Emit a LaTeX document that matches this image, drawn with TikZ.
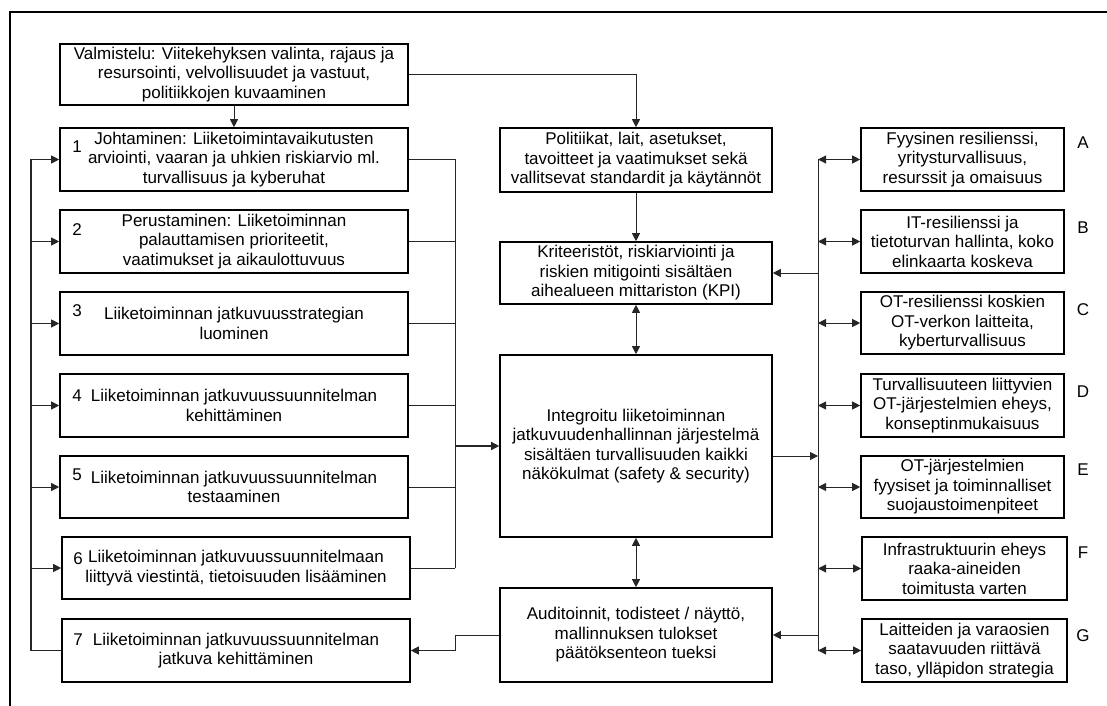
\documentclass[tikz,border=0pt]{standalone}
\usepackage{fontspec}
\setmainfont{Liberation Sans}
\usetikzlibrary{arrows.meta,calc}
\begin{document}
\begin{tikzpicture}[x=1bp,y=-1bp,
  txt/.style={font=\fontsize{17bp}{19.5bp}\selectfont},
  box/.style={draw, line width=1.6bp, align=center, inner sep=0pt, txt},
  lbox/.style={box, minimum width=348bp, minimum height=63bp},
  mbox/.style={box, minimum width=272bp},
  rbox/.style={box, minimum width=203bp, minimum height=63bp},
  conn/.style={line width=1bp, draw=black!85},
  arr/.style={conn, -{Triangle[length=8bp,width=8bp]}},
  darr/.style={conn, {Triangle[length=8bp,width=8bp]}-{Triangle[length=8bp,width=8bp]}},
  lbl/.style={txt, inner sep=0pt}]
\useasboundingbox (0,0) rectangle (1107,706);
% frame
\draw[line width=2bp] (1107,12.5) -- (9.5,12.5) -- (9.5,706);
% left column
\node[lbox, minimum height=61bp] (V) at (234,74.5) {Valmistelu: Viitekehyksen valinta, rajaus ja\\resursointi, velvollisuudet ja vastuut,\\politiikkojen kuvaaminen};
\node[lbox] (B1) at (234,159.5) {Johtaminen: Liiketoimintavaikutusten\\arviointi, vaaran ja uhkien riskiarvio ml.\\turvallisuus ja kyberuhat};
\node[lbox] (B2) at (234,241.5) {Perustaminen: Liiketoiminnan\\palauttamisen prioriteetit,\\vaatimukset ja aikaulottuvuus};
\node[lbox] (B3) at (234,323.5) {Liiketoiminnan jatkuvuusstrategian\\luominen};
\node[lbox] (B4) at (234,405.5) {Liiketoiminnan jatkuvuussuunnitelman\\kehittäminen};
\node[lbox, minimum height=62bp] (B5) at (234,487) {Liiketoiminnan jatkuvuussuunnitelman\\testaaminen};
\node[lbox, minimum height=62bp] (B6) at (236,568) {Liiketoiminnan jatkuvuussuunnitelmaan\\liittyvä viestintä, tietoisuuden lisääminen};
\node[lbox] (B7) at (236,650.5) {Liiketoiminnan jatkuvuussuunnitelman\\jatkuva kehittäminen};
% numbers
\node[lbl] (n1) at (77,147) {1};
\node[lbl] (n2) at (77,230) {2};
\node[lbl] (n3) at (77,311) {3};
\node[lbl] (n4) at (77,396) {4};
\node[lbl] (n5) at (77,475) {5};
\node[lbl] (n6) at (78,559) {6};
\node[lbl] (n7) at (78,640) {7};
% middle column
\node[mbox, minimum height=64bp] (M1) at (636,160) {Politiikat, lait, asetukset,\\tavoitteet ja vaatimukset sekä\\vallitsevat standardit ja käytännöt};
\node[mbox, minimum height=62bp] (M2) at (636,273) {Kriteeristöt, riskiarviointi ja\\riskien mitigointi sisältäen\\aihealueen mittariston (KPI)};
\node[mbox, minimum height=182bp] (M3) at (636,446) {Integroitu liiketoiminnan\\jatkuvuudenhallinnan järjestelmä\\sisältäen turvallisuuden kaikki\\näkökulmat (safety \& security)};
\node[mbox, minimum height=94bp] (M4) at (636,635) {Auditoinnit, todisteet / näyttö,\\mallinnuksen tulokset\\päätöksenteon tueksi};
% right column
\node[rbox] (RA) at (962.5,159.5) {Fyysinen resilienssi,\\yritysturvallisuus,\\resurssit ja omaisuus};
\node[rbox] (RB) at (962.5,241.5) {IT-resilienssi ja\\tietoturvan hallinta, koko\\elinkaarta koskeva};
\node[rbox, minimum height=62bp] (RC) at (962.5,323) {OT-resilienssi koskien\\OT-verkon laitteita,\\kyberturvallisuus};
\node[rbox] (RD) at (962.5,405.5) {Turvallisuuteen liittyvien\\OT-järjestelmien eheys,\\konseptinmukaisuus};
\node[rbox, minimum height=62bp] (RE) at (962.5,487) {OT-järjestelmien\\fyysiset ja toiminnalliset\\suojaustoimenpiteet};
\node[rbox, minimum width=205bp] (RF) at (964.5,568.5) {Infrastruktuurin eheys\\raaka-aineiden\\toimitusta varten};
\node[rbox, minimum width=205bp] (RG) at (964.5,650.5) {Laitteiden ja varaosien\\saatavuuden riittävä\\taso, ylläpidon strategia};
% letters
\node[lbl] (lA) at (1083,143) {A};
\node[lbl] (lB) at (1083,228) {B};
\node[lbl] (lC) at (1083,310) {C};
\node[lbl] (lD) at (1083,392) {D};
\node[lbl] (lE) at (1083,470) {E};
\node[lbl] (lF) at (1083,553) {F};
\node[lbl] (lG) at (1083,636) {G};
% bus coordinates
\coordinate (Lx) at (31,0);
\coordinate (Bx) at (455,0);
\coordinate (Rx) at (818,0);
% top connections
\draw[arr] (V.south -| B1.north) -- (B1.north);
\draw[arr] (V.east) -| (M1.north);
% left feedback loop
\draw[conn, line width=1.4bp] (B7.west) -- (Lx |- B7.west) -- (Lx |- B1.west);
\draw[arr] (Lx |- B1.west) -- (B1.west);
\foreach \b in {B2,B3,B4,B5,B6} \draw[arr] (Lx |- \b.west) -- (\b.west);
% right bus of left column
\foreach \b in {B1,B2,B3,B4,B5,B6} \draw[conn] (\b.east) -- (Bx |- \b.east);
\draw[conn] (Bx |- B1.east) -- (Bx |- B6.east);
\draw[arr, line width=1.4bp] (Bx |- M3.west) -- (M3.west);
% audit to 7
\draw[arr] (M4.west) -- (Bx |- M4.west) -- (Bx |- B7.east) -- (B7.east);
% middle column
\draw[arr] (M1.south) -- (M2.north);
\draw[darr] (M2.south) -- (M3.north);
\draw[darr] (M3.south) -- (M4.north);
% right bus
\draw[conn] (Rx |- RA.west) -- (Rx |- RG.west);
\foreach \b in {RA,RB,RC,RD,RE,RF,RG} \draw[darr] (Rx |- \b.west) -- (\b.west);
\draw[arr] (Rx |- M2.east) -- (M2.east);
\coordinate (m3o) at ($(M3.east)+(0,10)$);
\draw[arr] (m3o) -- (Rx |- m3o);
\draw[arr] (Rx |- M4.east) -- (M4.east);
\end{tikzpicture}
\end{document}
